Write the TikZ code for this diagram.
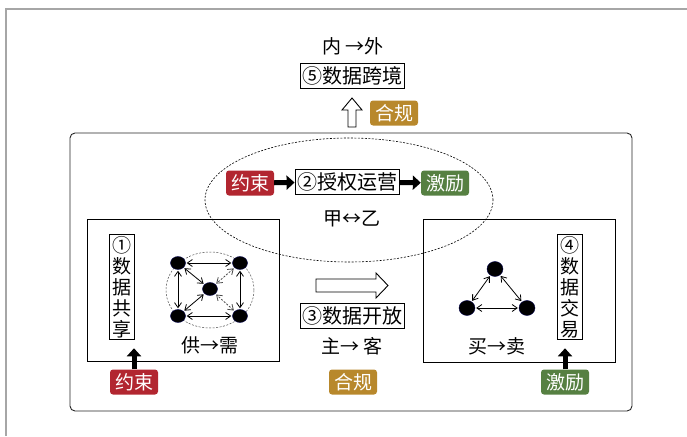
\documentclass[tikz,border=0pt]{standalone}
\usepackage{fontspec}
\newfontfamily\cjk{Noto Sans CJK SC}
\usetikzlibrary{arrows.meta,shapes.geometric}
\definecolor{cred}{RGB}{178,38,48}
\definecolor{cgold}{RGB}{184,136,44}
\definecolor{cgreen}{RGB}{86,128,66}
\tikzset{
  txt/.style={font=\cjk\fontsize{19}{22}\selectfont, inner sep=0pt},
  tbox/.style={draw, line width=0.9pt, font=\cjk\fontsize{20}{23}\selectfont, inner xsep=2pt, inner ysep=3.5pt},
  vbox/.style={draw, line width=0.9pt, font=\cjk\fontsize{19}{21}\selectfont, align=center, inner xsep=3pt, inner ysep=2pt},
  badge/.style={fill=#1, rounded corners=3pt, text=white, font=\cjk\fontsize{19}{22}\selectfont, minimum height=25pt, inner xsep=5pt, inner ysep=0pt},
  blockarrow/.style={line width=5pt, -{Triangle[length=8pt,width=14pt]}},
  dot/.style={ellipse, fill=black, draw=blue!30!black, minimum width=15pt, minimum height=13pt, inner sep=0pt},
  link/.style={<->, >={Straight Barb[length=5pt,width=7pt]}, line width=0.8pt, shorten <=1pt, shorten >=1pt},
  dlink/.style={link, draw=black!70, dash pattern=on 2pt off 1.5pt},
}
\begin{document}
\begin{tikzpicture}[x=1pt,y=-1pt]
\useasboundingbox (0,0) rectangle (687,436);
% outer gray frame
\draw[black!35, line width=2pt] (6,436) -- (6,9) -- (687,9);
% main rounded frame
\draw[black!85, line width=0.9pt, rounded corners=5pt] (70,133) rectangle (632,411);

% top part
\node[txt] (inout) at (353,46) {内 →外};
\node[tbox] (b5) at (352,76) {⑤数据跨境};
\draw[line width=0.9pt, fill=white] (352,98) -- (362,110) -- (356,110) -- (356,127) -- (348,127) -- (348,110) -- (342,110) -- cycle;
\node[badge=cgold] (hg1) at (394,113) {合规};

% ellipse and authorisation
\draw[dash pattern=on 2pt off 1.5pt, line width=0.6pt] (349,200) ellipse [x radius=144pt, y radius=62pt];
\node[badge=cred] (ys1) at (250,183) {约束};
\node[tbox] (b2) at (347,182) {②授权运营};
\node[badge=cgreen] (jl1) at (445,183) {激励};
\draw[blockarrow] (ys1) -- (b2);
\draw[blockarrow] (b2) -- (jl1);
\node[txt] (jy) at (352,219) {甲↔乙};

% left inner box
\draw[line width=0.9pt] (87,219) rectangle (279,361);
\node[vbox] (b1) at (121.5,287) {①\\数\\据\\共\\享};
\draw[dash pattern=on 2pt off 1.5pt, line width=0.5pt, draw=black!70] (210,290) ellipse [x radius=44pt, y radius=38pt];
\node[dot] (n1) at (178,263) {};
\node[dot] (n2) at (240,263) {};
\node[dot] (n3) at (210,289) {};
\node[dot] (n4) at (178,316) {};
\node[dot] (n5) at (240,316) {};
\draw[link] (n1) -- (n2);
\draw[link] (n1) -- (n4);
\draw[link] (n2) -- (n5);
\draw[link] (n4) -- (n5);
\draw[link] (n1) -- (n3);
\draw[link] (n4) -- (n3);
\draw[dlink] (n2) -- (n3);
\draw[dlink] (n5) -- (n3);
\node[txt] (gx) at (210,345) {供→需};
\node[badge=cred] (ys2) at (134,382) {约束};
\draw[blockarrow, shorten >=8pt] (ys2.north) -- (ys2.north |- b1.south);

% middle
\draw[line width=0.9pt, fill=white] (316,279) -- (376,279) -- (376,273) -- (388,285.5) -- (376,298) -- (376,292) -- (316,292) -- cycle;
\node[tbox] (b3) at (352,316) {③数据开放};
\node[txt] (zk) at (352,346) {主→ 客};
\node[badge=cgold] (hg2) at (353,382) {合规};

% right inner box
\draw[line width=0.9pt] (423,219) rectangle (615,362);
\node[dot, minimum width=16pt, minimum height=15pt] (t1) at (495,269) {};
\node[dot, minimum width=16pt, minimum height=15pt] (t2) at (467,308) {};
\node[dot, minimum width=16pt, minimum height=15pt] (t3) at (527,308) {};
\draw[link] (t1) -- (t2);
\draw[link] (t1) -- (t3);
\draw[link] (t2) -- (t3);
\node[txt] (mm) at (497,346) {买→卖};
\node[vbox] (b4) at (569.5,287) {④\\数\\据\\交\\易};
\node[badge=cgreen] (jl2) at (565,382) {激励};
\draw[blockarrow, shorten >=8pt] (jl2.north) -- (jl2.north |- b4.south);
\end{tikzpicture}
\end{document}
